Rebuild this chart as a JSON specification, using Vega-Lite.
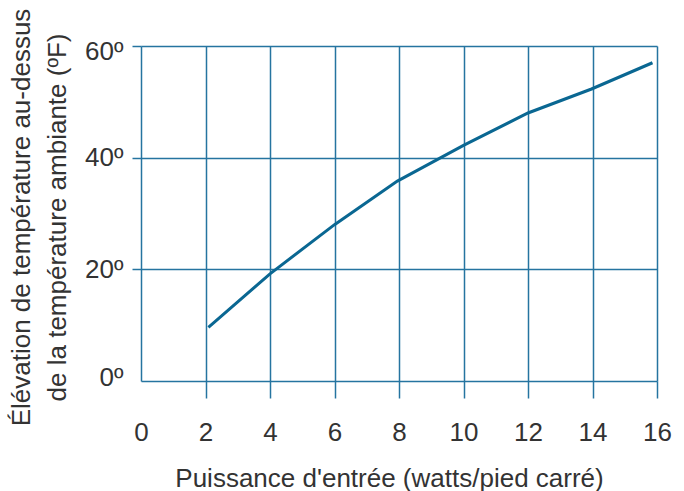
{
  "$schema": "https://vega.github.io/schema/vega-lite/v6.json",
  "width": 516,
  "height": 335,
  "autosize": {"type": "none"},
  "padding": {"left": 141, "top": 46, "right": 27, "bottom": 110},
  "background": "white",
  "config": {"view": {"stroke": null}},
  "data": {
    "values": [
      {"watts": 2.09, "rise": 9.6},
      {"watts": 4.0, "rise": 19.2},
      {"watts": 6.0, "rise": 28.0},
      {"watts": 7.95, "rise": 35.8},
      {"watts": 10.0, "rise": 42.2},
      {"watts": 12.0, "rise": 48.0},
      {"watts": 13.97, "rise": 52.3},
      {"watts": 15.86, "rise": 57.0}
    ]
  },
  "mark": {"type": "line", "color": "#0a6792", "strokeWidth": 3},
  "encoding": {
    "x": {
      "field": "watts",
      "type": "quantitative",
      "scale": {"domain": [0, 16], "nice": false, "zero": false},
      "axis": {
        "values": [0, 2, 4, 6, 8, 10, 12, 14, 16],
        "title": "Puissance d'entrée (watts/pied carré)",
        "domain": false,
        "grid": true,
        "gridColor": "#2574a0",
        "gridWidth": 1.5,
        "gridOpacity": 1,
        "ticks": true,
        "tickSize": 17,
        "tickColor": "#2574a0",
        "tickWidth": 1.5,
        "tickOpacity": {"condition": {"test": "datum.value === 0", "value": 0}, "value": 1},
        "labelFlush": false,
        "labelOverlap": false,
        "labelFont": "Liberation Sans",
        "labelFontSize": 26,
        "labelColor": "#333333",
        "labelPadding": 42,
        "labelBaseline": "alphabetic",
        "titleFont": "Liberation Sans",
        "titleFontSize": 26,
        "titleFontWeight": "normal",
        "titleColor": "#333333",
        "titleX": 248,
        "titleY": 105,
        "titleBaseline": "alphabetic",
        "titleAlign": "center"
      }
    },
    "y": {
      "field": "rise",
      "type": "quantitative",
      "scale": {"domain": [0, 60], "nice": false, "zero": false},
      "axis": {
        "values": [0, 20, 40, 60],
        "labelExpr": "datum.value + 'º'",
        "title": ["Élévation de température au-dessus", "de la température ambiante (ºF)"],
        "domain": false,
        "grid": true,
        "gridColor": "#2574a0",
        "gridWidth": 1.5,
        "gridOpacity": 1,
        "ticks": true,
        "tickSize": 9,
        "tickColor": "#2574a0",
        "tickWidth": 1.5,
        "tickOpacity": {"condition": {"test": "datum.value === 0", "value": 0}, "value": 1},
        "labelFlush": false,
        "labelOverlap": false,
        "labelFont": "Liberation Sans",
        "labelFontSize": 26,
        "labelColor": "#333333",
        "labelPadding": 9,
        "labelBaseline": "middle",
        "labelOffset": {"condition": [{"test": "datum.value === 60", "value": 5}, {"test": "datum.value === 0", "value": -4}], "value": 0},
        "titleFont": "Liberation Sans",
        "titleFontSize": 26,
        "titleFontWeight": "normal",
        "titleColor": "#333333",
        "titleLineHeight": 36,
        "titleAngle": -90,
        "titleX": -112,
        "titleY": 171,
        "titleBaseline": "alphabetic",
        "titleAlign": "center"
      }
    }
  }
}
